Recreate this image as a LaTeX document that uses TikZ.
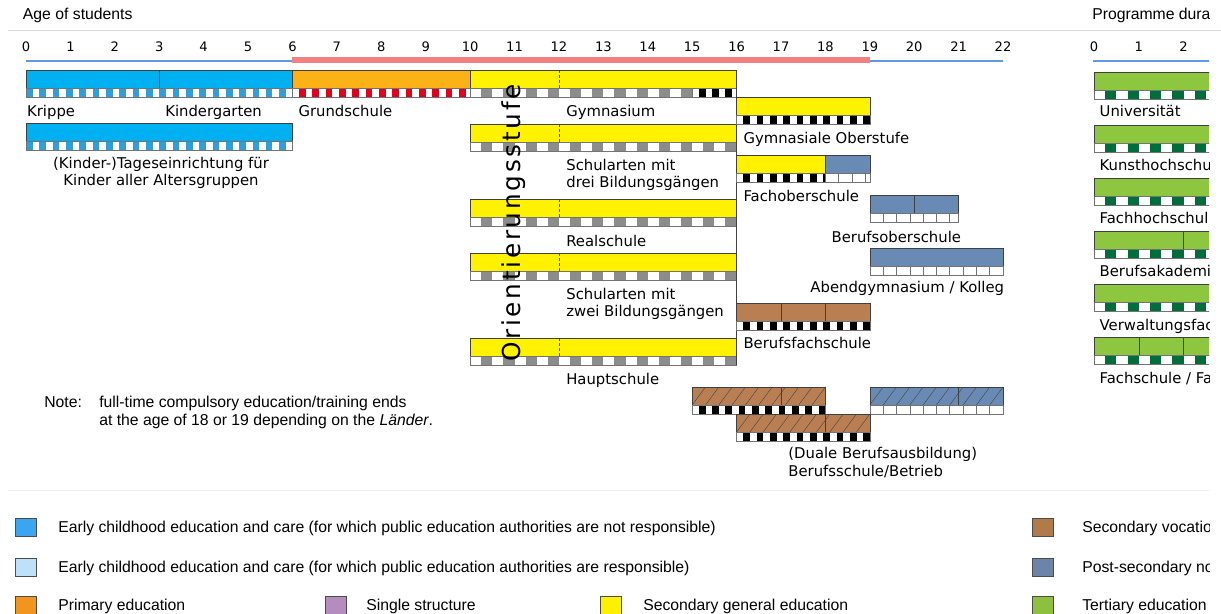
\documentclass[tikz,border=0pt]{standalone}
\usepackage{fontspec}
\setmainfont{DejaVu Sans}
\newfontfamily\arialfont{Liberation Sans}

\definecolor{ecec}{RGB}{0,176,240}
\definecolor{ececdark}{RGB}{46,159,219}
\definecolor{prim}{RGB}{251,178,23}
\definecolor{primred}{RGB}{226,0,26}
\definecolor{secgen}{RGB}{255,242,0}
\definecolor{secvoc}{RGB}{185,127,82}
\definecolor{postsec}{RGB}{105,138,180}
\definecolor{tert}{RGB}{141,198,63}
\definecolor{tertdark}{RGB}{0,110,58}
\definecolor{stripgray}{RGB}{140,140,140}
\definecolor{compuls}{RGB}{241,128,128}
\definecolor{axisblue}{RGB}{95,155,225}
\definecolor{legecec}{RGB}{60,165,240}
\definecolor{legececpub}{RGB}{190,225,250}
\definecolor{legprim}{RGB}{240,150,30}
\definecolor{legsingle}{RGB}{180,140,190}
\definecolor{legsecgen}{RGB}{255,240,0}
\definecolor{legsecvoc}{RGB}{176,122,74}
\definecolor{legpostsec}{RGB}{108,132,168}
\definecolor{legtert}{RGB}{141,192,63}

\tikzset{
  barline/.style={draw=black!75, line width=0.45pt},
  stripline/.style={draw=black!55, line width=0.4pt},
  hatchline/.style={draw=black!70, line width=0.35pt},
  lbl/.style={anchor=base west, inner sep=0pt, font=\fontsize{10.55}{12.3}\selectfont},
  tick/.style={anchor=base, inner sep=0pt, font=\fontsize{9.3}{11}\selectfont},
  arl/.style={anchor=base west, inner sep=0pt, font=\arialfont\fontsize{11.2}{13.4}\selectfont},
  swatch/.style={draw=black!70, line width=0.5pt, minimum width=0.525cm, minimum height=0.45cm, inner sep=0pt},
  orient/.style={rotate=90, inner sep=0pt, font=\fontsize{17.6}{20}\selectfont\addfontfeatures{LetterSpace=11}},
}

\newcommand\mainbar[4]{\filldraw[barline,fill=#4] (#1,#3) rectangle (#2,#3+18);}
\newcommand\splitat[2]{\draw[barline] (#1,#2) -- (#1,#2+18);}
\newcommand\splitdash[2]{\draw[barline,dash pattern=on 2pt off 1.5pt] (#1,#2) -- (#1,#2+18);}
\newcommand\checks[6][0.5]{%
  \begin{scope}
    \clip (#2,#4+18) rectangle (#3,#4+27);
    \fill[white] (#2,#4+18) rectangle (#3,#4+27);
    \pgfmathtruncatemacro\nchk{(#3-#2)/#6}
    \foreach \k in {0,...,\nchk}
      \fill[#5] ({#2+(\k+#1)*#6},#4+18) rectangle ++(#6/2,9);
  \end{scope}
  \draw[stripline] (#2,#4+18) rectangle (#3,#4+27);}
\newcommand\boxes[3]{%
  \filldraw[stripline,fill=white] (#1,#3+18) rectangle (#2,#3+27);
  \pgfmathtruncatemacro\nbox{(#2-#1)/0.3-0.01}
  \foreach \k in {1,...,\nbox}
    \draw[stripline] ({#1+\k*0.3},#3+18) -- ++(0,9);}
\newcommand\hatch[3]{%
  \begin{scope}
    \clip (#1,#3) rectangle (#2,#3+18);
    \foreach \k in {-1,...,11}
      \draw[hatchline] ({#1+\k*0.3},#3+18) -- ++(0.3,-18);
  \end{scope}
  \draw[barline] (#1,#3) rectangle (#2,#3+18);}

\begin{document}
\begin{tikzpicture}[x=0.025cm,y=-0.025cm]
    \useasboundingbox (0,0) rectangle (1221,613);
    \draw[black!15] (8,30) -- (1221,30);
    \begin{scope}
    \clip (0,0) rectangle (1209,613);
    \node[arl] (agehead) at (22.7,19.5) {Age of students};
    \node[arl] (durhead) at (1092,19.5) {Programme dura};

    \begin{scope}[shift={(26,0)}, x=1.11cm]
    \foreach \a in {0,...,22}
      \node[tick] (age\a) at (\a,51.7) {\a};
    \draw[axisblue, line width=0.8pt] (0,61) -- (22,61);
    \draw[compuls, line width=4.2pt] (6,59.7) -- (19,59.7);

    \mainbar{0}{6}{70}{ecec}
    \splitat{3}{70}
    \checks[0]{0}{6}{70}{ececdark}{0.3}
    \mainbar{6}{10}{70}{prim}
    \checks{6}{10}{70}{primred}{0.3}
    \mainbar{0}{6}{123}{ecec}
    \checks[0]{0}{6}{123}{ececdark}{0.3}

    \mainbar{10}{16}{70}{secgen}
    \splitdash{12}{70}
    \checks{10}{15}{70}{stripgray}{0.5}
    \checks{15}{16}{70}{black}{0.3}
    \mainbar{10}{16}{124}{secgen}
    \splitdash{12}{124}
    \checks{10}{16}{124}{stripgray}{0.5}
    \mainbar{10}{16}{199}{secgen}
    \splitdash{12}{199}
    \checks{10}{16}{199}{stripgray}{0.5}
    \mainbar{10}{16}{253}{secgen}
    \splitdash{12}{253}
    \checks{10}{16}{253}{stripgray}{0.5}
    \mainbar{10}{16}{338}{secgen}
    \splitdash{12}{338}
    \checks{10}{16}{338}{stripgray}{0.5}
    \draw[barline] (16,70) -- (16,365);

    \mainbar{16}{19}{97}{secgen}
    \checks{16}{19}{97}{black}{0.3}
    \mainbar{16}{18}{155}{secgen}
    \mainbar{18}{19}{155}{postsec}
    \checks{16}{18}{155}{black}{0.3}
    \boxes{18}{19}{155}
    \mainbar{19}{21}{195}{postsec}
    \splitat{20}{195}
    \boxes{19}{21}{195}
    \mainbar{19}{22}{248}{postsec}
    \boxes{19}{22}{248}
    \mainbar{16}{19}{303}{secvoc}
    \splitat{17}{303}
    \splitat{18}{303}
    \checks{16}{19}{303}{black}{0.3}

    \mainbar{15}{18}{387}{secvoc}
    \hatch{15}{18}{387}
    \splitat{17}{387}
    \checks{15}{18}{387}{black}{0.3}
    \mainbar{19}{22}{387}{postsec}
    \hatch{19}{22}{387}
    \splitat{21}{387}
    \boxes{19}{22}{387}
    \mainbar{16}{19}{414}{secvoc}
    \hatch{16}{19}{414}
    \splitat{18}{414}
    \checks{16}{19}{414}{black}{0.3}

    \node[orient] (orient) at (10.97,223) {Orientierungsstufe};

    \node[lbl] (krippe) at (0.02,116.5) {Krippe};
    \node[lbl] (kiga) at (3.13,116.5) {Kindergarten};
    \node[lbl] (grund) at (6.13,116.5) {Grundschule};
    \node[lbl] (gym) at (12.16,116.5) {Gymnasium};
    \node[lbl,anchor=base] (kita1) at (3.04,168.5) {(Kinder-)Tageseinrichtung für};
    \node[lbl,anchor=base] (kita2) at (3.04,185.5) {Kinder aller Altersgruppen};
    \node[lbl] (drei1) at (12.16,170) {Schularten mit};
    \node[lbl] (drei2) at (12.16,187) {drei Bildungsgängen};
    \node[lbl] (real) at (12.16,246) {Realschule};
    \node[lbl] (zwei1) at (12.16,299) {Schularten mit};
    \node[lbl] (zwei2) at (12.16,316.5) {zwei Bildungsgängen};
    \node[lbl] (haupt) at (12.16,384) {Hauptschule};
    \node[lbl] (gymob) at (16.15,143) {Gymnasiale Oberstufe};
    \node[lbl] (fos) at (16.15,201) {Fachoberschule};
    \node[lbl,anchor=base east] (bos) at (21.06,242.5) {Berufsoberschule};
    \node[lbl,anchor=base east] (abend) at (22.03,292) {Abendgymnasium / Kolleg};
    \node[lbl] (bfs) at (16.15,348) {Berufsfachschule};
    \node[lbl] (duale1) at (17.16,458) {(Duale Berufsausbildung)};
    \node[lbl] (duale2) at (17.16,476) {Berufsschule/Betrieb};
    \end{scope}

    \begin{scope}[shift={(1094,0)}, x=1.12cm]
    \foreach \a in {0,...,2}
      \node[tick] (dur\a) at (\a,51.7) {\a};
    \draw[axisblue, line width=0.8pt] (-0.03,61) -- (3,61);
    \mainbar{0}{3}{72}{tert}
    \checks{0}{3}{72}{tertdark}{0.5}
    \mainbar{0}{3}{125}{tert}
    \checks{0}{3}{125}{tertdark}{0.5}
    \mainbar{0}{3}{178}{tert}
    \checks{0}{3}{178}{tertdark}{0.5}
    \mainbar{0}{3}{231}{tert}
    \splitat{2}{231}
    \checks{0}{3}{231}{tertdark}{0.5}
    \mainbar{0}{3}{284}{tert}
    \checks{0}{3}{284}{tertdark}{0.5}
    \mainbar{0}{3}{337}{tert}
    \splitat{1}{337}
    \splitat{2}{337}
    \checks{0}{3}{337}{tertdark}{0.5}
    \node[lbl] (uni) at (0.12,116.5) {Universität};
    \node[lbl] (kunst) at (0.12,170) {Kunsthochschu};
    \node[lbl] (fh) at (0.12,223) {Fachhochschul};
    \node[lbl] (ba) at (0.12,276.5) {Berufsakademi};
    \node[lbl] (vfh) at (0.12,330) {Verwaltungsfac};
    \node[lbl] (fs) at (0.12,383.5) {Fachschule / Fa};
    \end{scope}

    \node[arl] (note) at (44,407) {Note:};
    \node[arl] (note1) at (99,407) {full-time compulsory education/training ends};
    \node[arl] (note2) at (99,425) {at the age of 18 or 19 depending on the \textit{Länder}.};
    \draw[black!8] (8,490) -- (1221,490);

    \node[swatch,fill=legecec] (sw1) at (25.5,527) {};
    \node[arl] (leg1) at (58,532.6) {Early childhood education and care (for which public education authorities are not responsible)};
    \node[swatch,fill=legececpub] (sw2) at (25.5,567) {};
    \node[arl] (leg2) at (58,572.6) {Early childhood education and care (for which public education authorities are responsible)};
    \node[swatch,fill=legprim] (sw3) at (25.5,605) {};
    \node[arl] (leg3) at (58,610.6) {Primary education};
    \node[swatch,fill=legsingle] (sw4) at (336,605) {};
    \node[arl] (leg4) at (366,610.6) {Single structure};
    \node[swatch,fill=legsecgen] (sw5) at (611,605) {};
    \node[arl] (leg5) at (643,610.6) {Secondary general education};
    \node[swatch,fill=legsecvoc] (sw6) at (1042.5,527) {};
    \node[arl] (leg6) at (1082,532.6) {Secondary vocatio};
    \node[swatch,fill=legpostsec] (sw7) at (1042.5,567) {};
    \node[arl] (leg7) at (1082,572.6) {Post-secondary no};
    \node[swatch,fill=legtert] (sw8) at (1042.5,605) {};
    \node[arl] (leg8) at (1082,610.6) {Tertiary education};
    \end{scope}
\end{tikzpicture}
\end{document}
